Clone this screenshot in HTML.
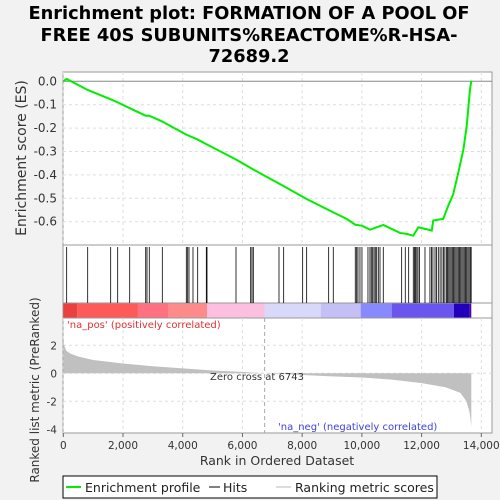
<!DOCTYPE html>
<html><head><meta charset="utf-8"><style>
html,body{margin:0;padding:0;background:#f2f2f2;}
svg{display:block;font-family:"DejaVu Sans","Liberation Sans",sans-serif;}
</style></head><body>
<svg id="c" width="500" height="500" xmlns="http://www.w3.org/2000/svg">
<rect width="500" height="500" fill="#f2f2f2"/>
<g font-weight="bold" font-size="17.8" text-anchor="middle" fill="#000">
<text x="249" y="19">Enrichment plot: FORMATION OF A POOL OF</text>
<text x="249" y="41">FREE 40S SUBUNITS%REACTOME%R-HSA-</text>
<text x="249" y="62">72689.2</text>
</g>
<rect x="63" y="72" width="429" height="173" fill="#fff" stroke="#999"/>
<rect x="63" y="245" width="429" height="58" fill="#fff" stroke="#999"/>
<rect x="63" y="303" width="429" height="15" fill="#fff" stroke="#999"/>
<rect x="63" y="318" width="429" height="115" fill="#fff" stroke="#999"/>
<g id="grid"></g><g id="colorbar"></g><g id="hits"></g><g id="metric"></g><g id="es"></g><g id="axes"></g>
<text x="67" y="328" font-size="10" fill="#e03030">'na_pos' (positively correlated)</text>
<text x="278" y="430" font-size="10" fill="#4040e0">'na_neg' (negatively correlated)</text>
<text x="257" y="380" font-size="10" fill="#333" text-anchor="middle">Zero cross at 6743</text>
<text x="277" y="465" font-size="12.5" fill="#333" text-anchor="middle">Rank in Ordered Dataset</text>
<text transform="translate(26,158) rotate(-90)" font-size="14" fill="#333" text-anchor="middle">Enrichment score (ES)</text>
<text transform="translate(39,390) rotate(-90)" font-size="12" fill="#333" text-anchor="middle">Ranked list metric (PreRanked)</text>
<g>
<rect x="63" y="476" width="374" height="22" fill="#fff" stroke="#000"/>
<line x1="66" y1="487" x2="81" y2="487" stroke="#00ee00" stroke-width="2"/>
<text x="85" y="492" font-size="12.5" fill="#222">Enrichment profile</text>
<line x1="209" y1="487" x2="220" y2="487" stroke="#000"/>
<text x="223" y="492" font-size="12.5" fill="#222">Hits</text>
<line x1="276" y1="487" x2="291" y2="487" stroke="#bbb"/>
<text x="295" y="492" font-size="12.5" fill="#222">Ranking metric scores</text>
</g>
</svg>
<script>
const xTicks=[0,2000,4000,6000,8000,10000,12000,14000];
const xTickLabels=["0","2,000","4,000","6,000","8,000","10,000","12,000","14,000"];
const esTicks=[0,-0.1,-0.2,-0.3,-0.4,-0.5,-0.6];
const esTickLabels=["0.0","-0.1","-0.2","-0.3","-0.4","-0.5","-0.6"];
const metricTicks=[2,0,-2,-4];
const esRanks=[0,113,817,1587,1822,2224,2760,2880,3316,4120,4501,4813,5784,6364,7381,8151,9042,9490,9779,10003,10271,10496,10717,11280,11500,11720,11890,12220,12340,12390,12725,12895,13060,13230,13400,13510,13620,13665];
const esValues=[0,0.01,-0.037,-0.077,-0.09,-0.115,-0.147,-0.147,-0.172,-0.228,-0.249,-0.27,-0.334,-0.377,-0.448,-0.503,-0.56,-0.588,-0.613,-0.617,-0.634,-0.624,-0.614,-0.648,-0.652,-0.66,-0.624,-0.634,-0.638,-0.595,-0.588,-0.531,-0.482,-0.39,-0.292,-0.192,-0.037,0.003];
const hitRanks=[113,817,1587,1822,2224,2760,2803,2880,3316,4120,4166,4210,4344,4501,4790,4813,5784,6276,6320,6364,7224,7381,8017,8151,8888,9042,9779,9826,9869,9936,10003,10204,10271,10315,10362,10407,10449,10496,10550,10607,10717,11333,11454,11568,11722,11760,11800,11840,11880,11930,12114,12280,12330,12380,12450,12500,12560,12620,12680,12730,12780,12830,12870,12910,12950,12990,13030,13070,13110,13150,13190,13230,13270,13310,13350,13390,13430,13470,13510,13550,13590,13630,13660];
const metricRanks=[0,30,100,250,500,1000,2000,3000,4000,5000,6000,6743,8000,9000,10000,11000,12000,12800,13300,13500,13600,13640,13665];
const metricValues=[2.6,2.0,1.6,1.4,1.2,0.95,0.7,0.5,0.35,0.2,0.1,0,-0.12,-0.22,-0.3,-0.45,-0.7,-1.0,-1.4,-2.0,-2.7,-3.3,-3.8];
const barStarts=[0,470,2500,3520,4820,6740,8620,9960,11000,13080,13610];
const barColors=["#ea4040","#ff5a5a","#ff7080","#ff8a8a","#fcbfe0","#d8d8f8","#c4c0f5","#8888ff","#6a55ee","#2200bb","#5000a0"];
const NS="http://www.w3.org/2000/svg";
const X=r=>63.3+r*0.029857;
const YE=v=>81.3-v*234;
const YM=v=>373.3-v*14.0;
function mk(t,a,p){const e=document.createElementNS(NS,t);for(const k in a)e.setAttribute(k,a[k]);p.appendChild(e);return e;}
const grid=document.getElementById('grid'),axes=document.getElementById('axes');
xTicks.forEach((t,i)=>{
 const g1=mk('line',{x1:X(t),x2:X(t),y1:72,y2:245,stroke:'#ddd','stroke-dasharray':'3,3'},grid);
 
 
 const g2=mk('line',{x1:X(t),x2:X(t),y1:318,y2:433,stroke:'#ddd','stroke-dasharray':'3,3'},grid);
 
 
 const tk=mk('line',{x1:X(t),x2:X(t),y1:433,y2:437,stroke:'#666'},axes);
 
 
 const tl=mk('text',{x:X(t),y:449,'font-size':10.5,fill:'#333','text-anchor':'middle'},axes);
 tl.textContent=xTickLabels[i];
 
 
});
esTicks.forEach((t,i)=>{
 if(t!==0){const g=mk('line',{x1:63,x2:492,y1:YE(t),y2:YE(t),stroke:'#ddd','stroke-dasharray':'3,3'},grid);
 
 }
 const tl=mk('text',{x:57,y:YE(t)+4,'font-size':12,fill:'#333','text-anchor':'end'},axes);
 tl.textContent=esTickLabels[i];
 
 
});
const z=mk('line',{x1:63,x2:492,y1:YE(0),y2:YE(0),stroke:'#888'},grid);


metricTicks.forEach(t=>{
 if(t!==-4){const g=mk('line',{x1:63,x2:492,y1:YM(t),y2:YM(t),stroke:'#ddd','stroke-dasharray':'3,3'},grid);
 
 }
 const tl=mk('text',{x:57,y:YM(t)+4,'font-size':10.5,fill:'#333','text-anchor':'end'},axes);
 tl.textContent=String(t);
 
 
});
const zc=mk('line',{x1:X(6743),x2:X(6743),y1:318,y2:433,stroke:'#aaa','stroke-dasharray':'4,3'},grid);


const cb=document.getElementById('colorbar');
const maxR=13665;
barStarts.forEach((s,i)=>{
 const e=i+1<barStarts.length?barStarts[i+1]:maxR;
 const r=mk('rect',{x:X(s),y:303.5,width:X(e)-X(s),height:14,fill:barColors[i]},cb);
 
 
});
const hg=document.getElementById('hits');
hitRanks.forEach(h=>{
 const l=mk('line',{x1:X(h),x2:X(h),y1:247,y2:303,stroke:'#000','stroke-width':0.8},hg);
 
 
});
let d='M'+X(0)+','+YM(0);
metricRanks.forEach((r,i)=>{d+=' L'+X(r)+','+YM(metricValues[i]);});
d+=' L'+X(maxR)+','+YM(0)+' Z';
const ma=mk('path',{d:d,fill:'#c0c0c0'},document.getElementById('metric'));


const pts=esRanks.map((r,i)=>X(r)+','+YE(esValues[i])).join(' ');
const es=mk('polyline',{points:pts,fill:'none',stroke:'#00ee00','stroke-width':2},document.getElementById('es'));


</script>
</body></html>
